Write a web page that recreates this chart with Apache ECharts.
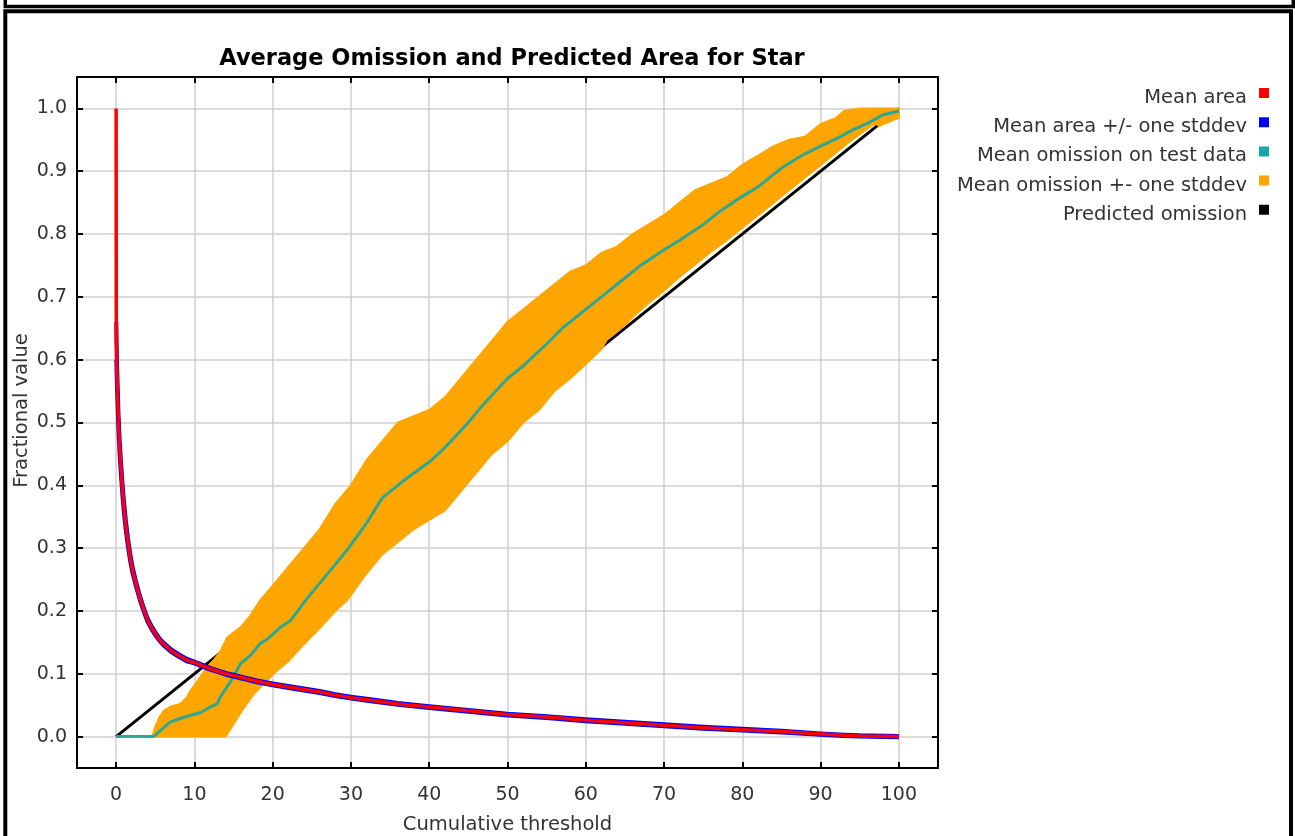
<!DOCTYPE html>
<html>
<head>
<meta charset="utf-8">
<script src="https://cdn.jsdelivr.net/npm/echarts@6/dist/echarts.min.js"></script>
<style>
  html, body { margin: 0; padding: 0; background: #fff; }
  #main { width: 1295px; height: 836px; }
</style>
</head>
<body>
<div id="main"></div>
<script>
// tick positions
var xTicks = [0, 10, 20, 30, 40, 50, 60, 70, 80, 90, 100];
var yTicks = [0.0, 0.1, 0.2, 0.3, 0.4, 0.5, 0.6, 0.7, 0.8, 0.9, 1.0];

// mean area (red) and its stddev (blue)
var areaX    = [0, 0.02, 0.1, 0.2, 0.3, 0.45, 0.6, 0.8, 1.0, 1.25, 1.5, 1.8, 2.1, 2.5, 3.0, 3.5, 4.0, 4.5, 5, 5.5, 6, 7, 8, 9, 10, 11, 12, 13, 14, 15, 16, 18, 20, 22, 24, 26, 28, 30, 33, 36, 40, 45, 50, 55, 60, 65, 70, 75, 80, 85, 90, 93, 95, 100];
var areaMean = [1.0, 0.63, 0.58, 0.54, 0.5, 0.46, 0.43, 0.395, 0.365, 0.335, 0.31, 0.285, 0.265, 0.245, 0.222, 0.203, 0.186, 0.174, 0.164, 0.155, 0.148, 0.137, 0.129, 0.122, 0.118, 0.113, 0.108, 0.104, 0.1, 0.097, 0.094, 0.088, 0.083, 0.079, 0.075, 0.071, 0.066, 0.062, 0.057, 0.052, 0.047, 0.041, 0.035, 0.031, 0.026, 0.022, 0.018, 0.014, 0.011, 0.008, 0.004, 0.002, 0.001, 0];
var areaSd   = [0, 0.03, 0.02, 0.016, 0.014, 0.012, 0.011, 0.01, 0.009, 0.008, 0.007, 0.006, 0.005, 0.004, 0.0035, 0.003, 0.003, 0.0025, 0.0025, 0.002, 0.002, 0.002, 0.002, 0.002, 0.0015, 0.0015, 0.0015, 0.0015, 0.0015, 0.0015, 0.0015, 0.0015, 0.0015, 0.0015, 0.0015, 0.0015, 0.0015, 0.0015, 0.0015, 0.0015, 0.0015, 0.0015, 0.0015, 0.0015, 0.0015, 0.0015, 0.0015, 0.0015, 0.0015, 0.0015, 0.001, 0.001, 0.001, 0.001];

// mean omission on test data (teal)
var omitX    = [0, 4.8, 5.5, 6.9, 8, 9.5, 10.75, 12, 12.9, 13.3, 14.6, 15.9, 17.2, 18.4, 19.3, 21, 22.3, 24.4, 27.4, 29.5, 32, 34, 35, 37, 40, 42, 45, 47, 50, 52, 55, 57, 60, 62, 65, 67, 70, 72, 75, 77, 80, 82, 85, 87.6, 90, 91.9, 94, 96.1, 98, 100];
var omitMean = [0, 0, 0.008, 0.023, 0.028, 0.034, 0.038, 0.047, 0.052, 0.063, 0.087, 0.116, 0.13, 0.148, 0.155, 0.174, 0.185, 0.22, 0.265, 0.297, 0.34, 0.38, 0.39, 0.41, 0.437, 0.46, 0.5, 0.53, 0.57, 0.59, 0.625, 0.65, 0.68, 0.7, 0.73, 0.75, 0.775, 0.79, 0.815, 0.835, 0.86, 0.875, 0.905, 0.925, 0.94, 0.951, 0.965, 0.977, 0.99, 0.996];

// mean omission +- one stddev (orange band edges)
var bandUpX = [4.6, 5, 5.5, 6.1, 7, 8.2, 9, 9.5, 10.5, 11.6, 12.5, 13.3, 14.2, 15.9, 17, 18.4, 20, 22, 24, 26, 28, 30, 32, 34, 36, 38, 40, 42, 44, 46, 48, 50, 52, 54, 56, 58, 60, 62, 64, 66, 68, 70, 72, 74, 76, 78, 80, 82, 84, 86, 88, 90, 92, 93, 95, 100];
var bandUpY = [0, 0.015, 0.03, 0.041, 0.048, 0.052, 0.062, 0.073, 0.09, 0.11, 0.122, 0.135, 0.158, 0.174, 0.19, 0.217, 0.24, 0.27, 0.3, 0.33, 0.37, 0.4, 0.44, 0.47, 0.5, 0.51, 0.52, 0.54, 0.57, 0.6, 0.63, 0.66, 0.68, 0.7, 0.72, 0.74, 0.75, 0.77, 0.78, 0.8, 0.815, 0.83, 0.85, 0.87, 0.88, 0.89, 0.91, 0.925, 0.94, 0.95, 0.955, 0.975, 0.985, 0.996, 1.0, 1.0];
var bandLoX = [4.6, 14, 15, 16, 17.6, 20.1, 22, 23.6, 26.1, 28, 29.5, 32, 34, 36, 38, 40, 42, 44, 46, 48, 50, 52, 54, 56, 58, 60, 61, 62, 62.7, 63.5, 65, 66, 68, 70, 72, 74, 76, 78, 80, 82, 84, 86, 88, 90, 92, 94, 96, 97, 97.5, 98, 100];
var bandLoY = [0, 0, 0.02, 0.04, 0.068, 0.1, 0.12, 0.142, 0.174, 0.2, 0.217, 0.26, 0.29, 0.31, 0.33, 0.345, 0.36, 0.39, 0.42, 0.45, 0.47, 0.5, 0.52, 0.55, 0.57, 0.593, 0.605, 0.617, 0.632, 0.64, 0.655, 0.668, 0.69, 0.71, 0.732, 0.752, 0.772, 0.79, 0.81, 0.83, 0.85, 0.87, 0.89, 0.91, 0.93, 0.95, 0.968, 0.976, 0.972, 0.975, 0.985];

// predicted omission (black)
var predX = [0, 100];
var predY = [0, 1];

var legendNames = ['Mean area', 'Mean area +/- one stddev', 'Mean omission on test data', 'Mean omission +- one stddev', 'Predicted omission'];
var legendColors = ['#ff0000', '#0000ff', '#14a8a8', '#ffa500', '#000000'];

function pairs(xs, ys) {
  return xs.map(function (x, i) { return [x, ys[i]]; });
}

var FONT = 'DejaVu Sans';
var myChart = echarts.init(document.getElementById('main'));

var areaUpper = pairs(areaX.slice(1), areaMean.slice(1).map(function (v, i) { return v + areaSd[i + 1]; }));
var areaLower = pairs(areaX.slice(1), areaMean.slice(1).map(function (v, i) { return v - areaSd[i + 1]; }));

myChart.setOption({
  animation: false,
  backgroundColor: '#fff',
  title: {
    text: 'Average Omission and Predicted Area for Star',
    left: 507,
    textAlign: 'center',
    top: 43,
    textStyle: { fontFamily: FONT, fontSize: 22.5, fontWeight: 'bold', color: '#000' }
  },
  legend: {
    orient: 'vertical',
    right: 21,
    top: 83,
    align: 'right',
    // square sits a little above the text centre, as in the reference
    icon: 'path://M0,0h10v10h-10z M0,20h10',
    itemWidth: 10,
    itemHeight: 20,
    itemGap: 9.2,
    selectedMode: false,
    itemStyle: { borderWidth: 0 },
    textStyle: { fontFamily: FONT, fontSize: 19.5, color: '#333', padding: [0, 7, 0, 0] },
    data: legendNames.map(function (n, i) { return { name: n, itemStyle: { color: legendColors[i] } }; })
  },
  grid: { left: 77, right: 357, top: 77, bottom: 68, outerBoundsMode: 'none' },
  xAxis: [{
    type: 'value', position: 'bottom', min: -5, max: 105,
    name: 'Cumulative threshold', nameLocation: 'middle', nameGap: 47, nameMoveOverlap: false,
    nameTextStyle: { fontFamily: FONT, fontSize: 19.5, color: '#333' },
    axisLine: { onZero: false, lineStyle: { color: '#000', width: 2 } },
    axisTick: { inside: true, length: 6, lineStyle: { color: '#000', width: 2 }, customValues: xTicks },
    axisLabel: { customValues: xTicks, margin: 18, fontFamily: FONT, fontSize: 19, color: '#333' },
    splitLine: { show: true, lineStyle: { color: '#cfcfcf', width: 1.5 } }
  }, {
    type: 'value', position: 'top', min: -5, max: 105,
    axisLine: { onZero: false, lineStyle: { color: '#000', width: 2 } },
    axisTick: { inside: true, length: 6, lineStyle: { color: '#000', width: 2 }, customValues: xTicks },
    axisLabel: { show: false },
    splitLine: { show: false }
  }],
  yAxis: [{
    type: 'value', position: 'left', min: -0.05, max: 1.05,
    name: 'Fractional value', nameLocation: 'middle', nameGap: 45, nameMoveOverlap: false,
    nameTextStyle: { fontFamily: FONT, fontSize: 19.5, color: '#333', padding: [0, 0, 0, 24] },
    axisLine: { onZero: false, lineStyle: { color: '#000', width: 2 } },
    axisTick: { inside: true, length: 6, lineStyle: { color: '#000', width: 2 }, customValues: yTicks },
    axisLabel: { customValues: yTicks, margin: 10, fontFamily: FONT, fontSize: 19, color: '#333',
      formatter: function (v) { return v.toFixed(1); } },
    splitLine: { show: true, lineStyle: { color: '#cfcfcf', width: 1.5 } }
  }, {
    type: 'value', position: 'right', min: -0.05, max: 1.05,
    axisLine: { onZero: false, lineStyle: { color: '#000', width: 2 } },
    axisTick: { inside: true, length: 6, lineStyle: { color: '#000', width: 2 }, customValues: yTicks },
    axisLabel: { show: false },
    splitLine: { show: false }
  }],
  series: [
    {
      name: 'Predicted omission', type: 'line', symbol: 'none', z: 1,
      data: pairs(predX, predY),
      itemStyle: { color: '#000' },
      lineStyle: { color: '#000', width: 3 }
    },
    {
      name: 'Mean omission +- one stddev', type: 'custom', z: 2,
      data: pairs(bandUpX, bandUpY),
      encode: { x: 0, y: 1 },
      itemStyle: { color: '#ffa500' },
      renderItem: function (params, api) {
        if (params.dataIndex !== 0) return;
        var pts = [];
        for (var i = 0; i < bandUpX.length; i++) pts.push(api.coord([bandUpX[i], bandUpY[i]]));
        for (var j = bandLoX.length - 1; j >= 0; j--) pts.push(api.coord([bandLoX[j], bandLoY[j]]));
        return { type: 'polygon', shape: { points: pts }, style: { fill: '#ffa500', stroke: '#ffa500', lineWidth: 2 } };
      }
    },
    {
      name: 'Mean omission on test data', type: 'line', symbol: 'none', z: 3,
      data: pairs(omitX, omitMean),
      itemStyle: { color: '#14a8a8' },
      lineStyle: { color: '#2aa897', width: 3 }
    },
    {
      name: 'Mean area +/- one stddev', type: 'line', symbol: 'none', z: 4,
      data: areaUpper,
      itemStyle: { color: '#0000ff' },
      lineStyle: { color: '#0000ff', width: 4, join: 'round' }
    },
    {
      name: 'Mean area +/- one stddev', type: 'line', symbol: 'none', z: 4,
      data: areaLower,
      itemStyle: { color: '#0000ff' },
      lineStyle: { color: '#0000ff', width: 4, join: 'round' }
    },
    {
      name: 'Mean area', type: 'line', symbol: 'none', z: 5,
      data: pairs(areaX, areaMean),
      itemStyle: { color: '#ff0000' },
      lineStyle: { color: '#ff0000', width: 3.5, join: 'round' }
    }
  ],
  graphic: [
    { type: 'rect', silent: true, shape: { x: 5.3, y: -20, width: 1288, height: 26.5 },
      style: { fill: 'none', stroke: '#000', lineWidth: 3.5 } },
    { type: 'rect', silent: true, shape: { x: 5.3, y: 11.3, width: 1285.7, height: 900 },
      style: { fill: 'none', stroke: '#000', lineWidth: 4 } }
  ]
});
</script>
</body>
</html>
